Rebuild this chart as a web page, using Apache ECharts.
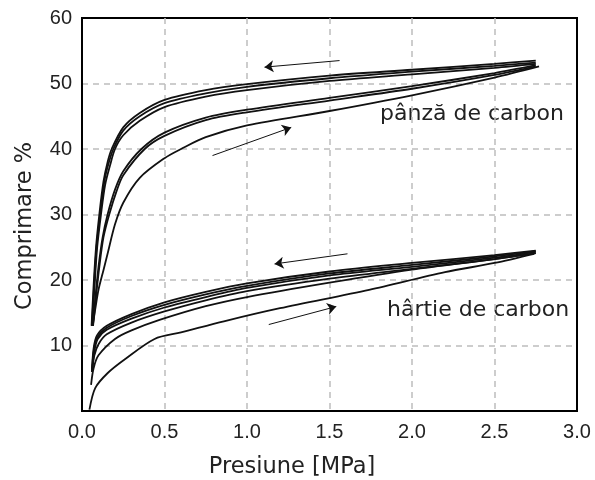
<!DOCTYPE html>
<html>
<head>
<meta charset="utf-8">
<script src="https://cdn.jsdelivr.net/npm/echarts@6/dist/echarts.min.js"></script>
<style>
  html, body { margin: 0; padding: 0; background: #fff; }
  #chart { width: 595px; height: 480px; }
</style>
</head>
<body>
<div id="chart"></div>
<script>
// axes
var xTicks = [0, 0.5, 1.0, 1.5, 2.0, 2.5, 3.0];
var yTicks = [10, 20, 30, 40, 50, 60];

// pânză de carbon - descarcare (3 curbe)
var clothUnload1 = [[0.058,13],[0.07,19],[0.085,25],[0.105,30],[0.13,35],[0.155,38],[0.18,40],[0.25,43.3],[0.35,45.5],[0.5,47.5],[0.75,49.0],[1.0,49.9],[1.5,51.2],[2.0,52.1],[2.5,53.0],[2.75,53.5]];
var clothUnload2 = [[0.06,13],[0.073,19],[0.088,25],[0.11,30],[0.135,35],[0.16,37.7],[0.19,40],[0.25,42.8],[0.35,45.0],[0.5,47.0],[0.75,48.5],[1.0,49.5],[1.5,50.8],[2.0,51.8],[2.5,52.7],[2.75,53.2]];
var clothUnload3 = [[0.062,13],[0.076,19],[0.092,25],[0.115,30],[0.14,34.5],[0.17,37.5],[0.2,40],[0.25,42.1],[0.35,44.3],[0.5,46.4],[0.75,48.0],[1.0,49.0],[1.5,50.4],[2.0,51.4],[2.5,52.4],[2.75,53.0]];
// pânză de carbon - incarcare
var clothLoad1 = [[0.065,13],[0.08,15.5],[0.1,18.5],[0.13,21.5],[0.155,24],[0.2,28.5],[0.25,31.8],[0.35,35.6],[0.5,38.6],[0.6,40],[0.75,41.8],[1.0,43.6],[1.5,45.8],[2.0,48.2],[2.5,50.9],[2.77,52.6]];
var clothLoad2 = [[0.065,13],[0.08,17],[0.1,22],[0.125,26.5],[0.155,30],[0.2,33.8],[0.25,36.6],[0.36,40],[0.5,42.5],[0.75,44.8],[1.0,46.0],[1.5,47.8],[2.0,49.6],[2.5,51.6],[2.75,52.8]];
var clothLoad3 = [[0.067,13],[0.083,17],[0.105,22],[0.13,26.5],[0.165,30],[0.21,33.6],[0.25,36.0],[0.38,40],[0.5,42.0],[0.75,44.4],[1.0,45.6],[1.5,47.4],[2.0,49.2],[2.5,51.3],[2.75,52.6]];

// hârtie de carbon - descarcare
var paperUnload1 = [[0.06,6],[0.07,9.5],[0.09,11.5],[0.15,13.0],[0.3,14.8],[0.5,16.6],[0.75,18.2],[1.0,19.5],[1.5,21.3],[2.0,22.6],[2.5,23.8],[2.75,24.5]];
var paperUnload2 = [[0.06,6],[0.072,9.3],[0.092,11.2],[0.15,12.7],[0.3,14.5],[0.5,16.2],[0.75,17.8],[1.0,19.1],[1.5,21.0],[2.0,22.3],[2.5,23.6],[2.75,24.4]];
var paperUnload3 = [[0.062,6],[0.074,9],[0.095,11],[0.15,12.4],[0.3,14.1],[0.5,15.8],[0.75,17.4],[1.0,18.8],[1.5,20.7],[2.0,22.0],[2.5,23.4],[2.75,24.3]];
// hârtie de carbon - incarcare
var paperLoad1 = [[0.045,0.2],[0.08,3.5],[0.156,5.8],[0.26,7.9],[0.44,11.0],[0.6,12.0],[0.86,13.7],[1.2,15.7],[1.74,18.5],[2.2,21.2],[2.5,22.6],[2.74,24.0]];
var paperLoad2 = [[0.055,4],[0.07,6.5],[0.1,8.5],[0.2,11.0],[0.3,12.3],[0.47,13.9],[0.75,16.0],[1.0,17.4],[1.5,19.6],[2.0,21.6],[2.5,23.2],[2.75,24.1]];
var paperLoad3 = [[0.06,6],[0.075,8.5],[0.1,10.2],[0.15,11.7],[0.3,13.5],[0.5,15.2],[0.75,16.9],[1.0,18.3],[1.5,20.2],[2.0,21.7],[2.5,23.2],[2.75,24.1]];

// sageti (inceput, sfarsit)
var arrows = [
  [[1.561, 53.5], [1.106, 52.5]],
  [[0.791, 39.0], [1.268, 43.3]],
  [[1.609, 24.0], [1.167, 22.45]],
  [[1.132, 13.2], [1.541, 15.95]]
];

var curves = [clothUnload1, clothUnload2, clothUnload3, clothLoad1, clothLoad2, clothLoad3,
              paperUnload1, paperUnload2, paperUnload3, paperLoad1, paperLoad2, paperLoad3];

var myChart = echarts.init(document.getElementById('chart'));

var series = curves.map(function (c) {
  return {
    type: 'line',
    data: c,
    showSymbol: false,
    smooth: 0.3,
    lineStyle: { color: '#111', width: 1.8 },
    silent: true
  };
});

series.push({
  type: 'lines',
  coordinateSystem: 'cartesian2d',
  symbol: ['none', 'arrow'],
  symbolSize: 9,
  lineStyle: { color: '#111', width: 1, opacity: 1 },
  data: arrows.map(function (a) { return { coords: a }; }),
  silent: true
});

var labelFont = 'DejaVu Sans, Verdana, sans-serif';
var tickFont = 'Liberation Sans, Arial, sans-serif';
var gridLine = { show: true, showMinLine: false, showMaxLine: false,
                 lineStyle: { color: '#bdbdbd', width: 1.5, type: [6, 5] } };

var option = {
  animation: false,
  backgroundColor: '#fff',
  grid: {
    left: 82, right: 18, top: 18, bottom: 69,
    show: true, borderColor: '#000', borderWidth: 2
  },
  xAxis: {
    type: 'value',
    min: xTicks[0], max: xTicks[xTicks.length - 1], interval: 0.5,
    axisLine: { show: true, lineStyle: { color: '#000', width: 2 } },
    axisTick: { show: false },
    axisLabel: {
      margin: 11, fontFamily: tickFont, fontSize: 20, color: '#222',
      formatter: function (v) { return v.toFixed(1); }
    },
    splitLine: gridLine
  },
  yAxis: {
    type: 'value',
    min: 0, max: yTicks[yTicks.length - 1], interval: 10,
    axisLine: { show: true, lineStyle: { color: '#000', width: 2 } },
    axisTick: { show: false },
    axisLabel: {
      margin: 10, fontFamily: tickFont, fontSize: 20, color: '#222',
      formatter: function (v) { return v === 0 ? '' : String(v); }
    },
    splitLine: gridLine
  },
  graphic: [
    { type: 'text', x: 292, y: 467, style: { text: 'Presiune [MPa]', font: '22.5px ' + labelFont, fill: '#222', align: 'center', verticalAlign: 'middle' } },
    { type: 'text', x: 25, y: 226, rotation: Math.PI / 2, style: { text: 'Comprimare %', font: '22.5px ' + labelFont, fill: '#222', align: 'center', verticalAlign: 'middle' } },
    { type: 'text', left: 380, top: 103, style: { text: 'pânză de carbon', font: '22px ' + labelFont, fill: '#222' } },
    { type: 'text', left: 387, top: 299, style: { text: 'hârtie de carbon', font: '22px ' + labelFont, fill: '#222' } }
  ],
  series: series
};

myChart.setOption(option);
</script>
</body>
</html>
